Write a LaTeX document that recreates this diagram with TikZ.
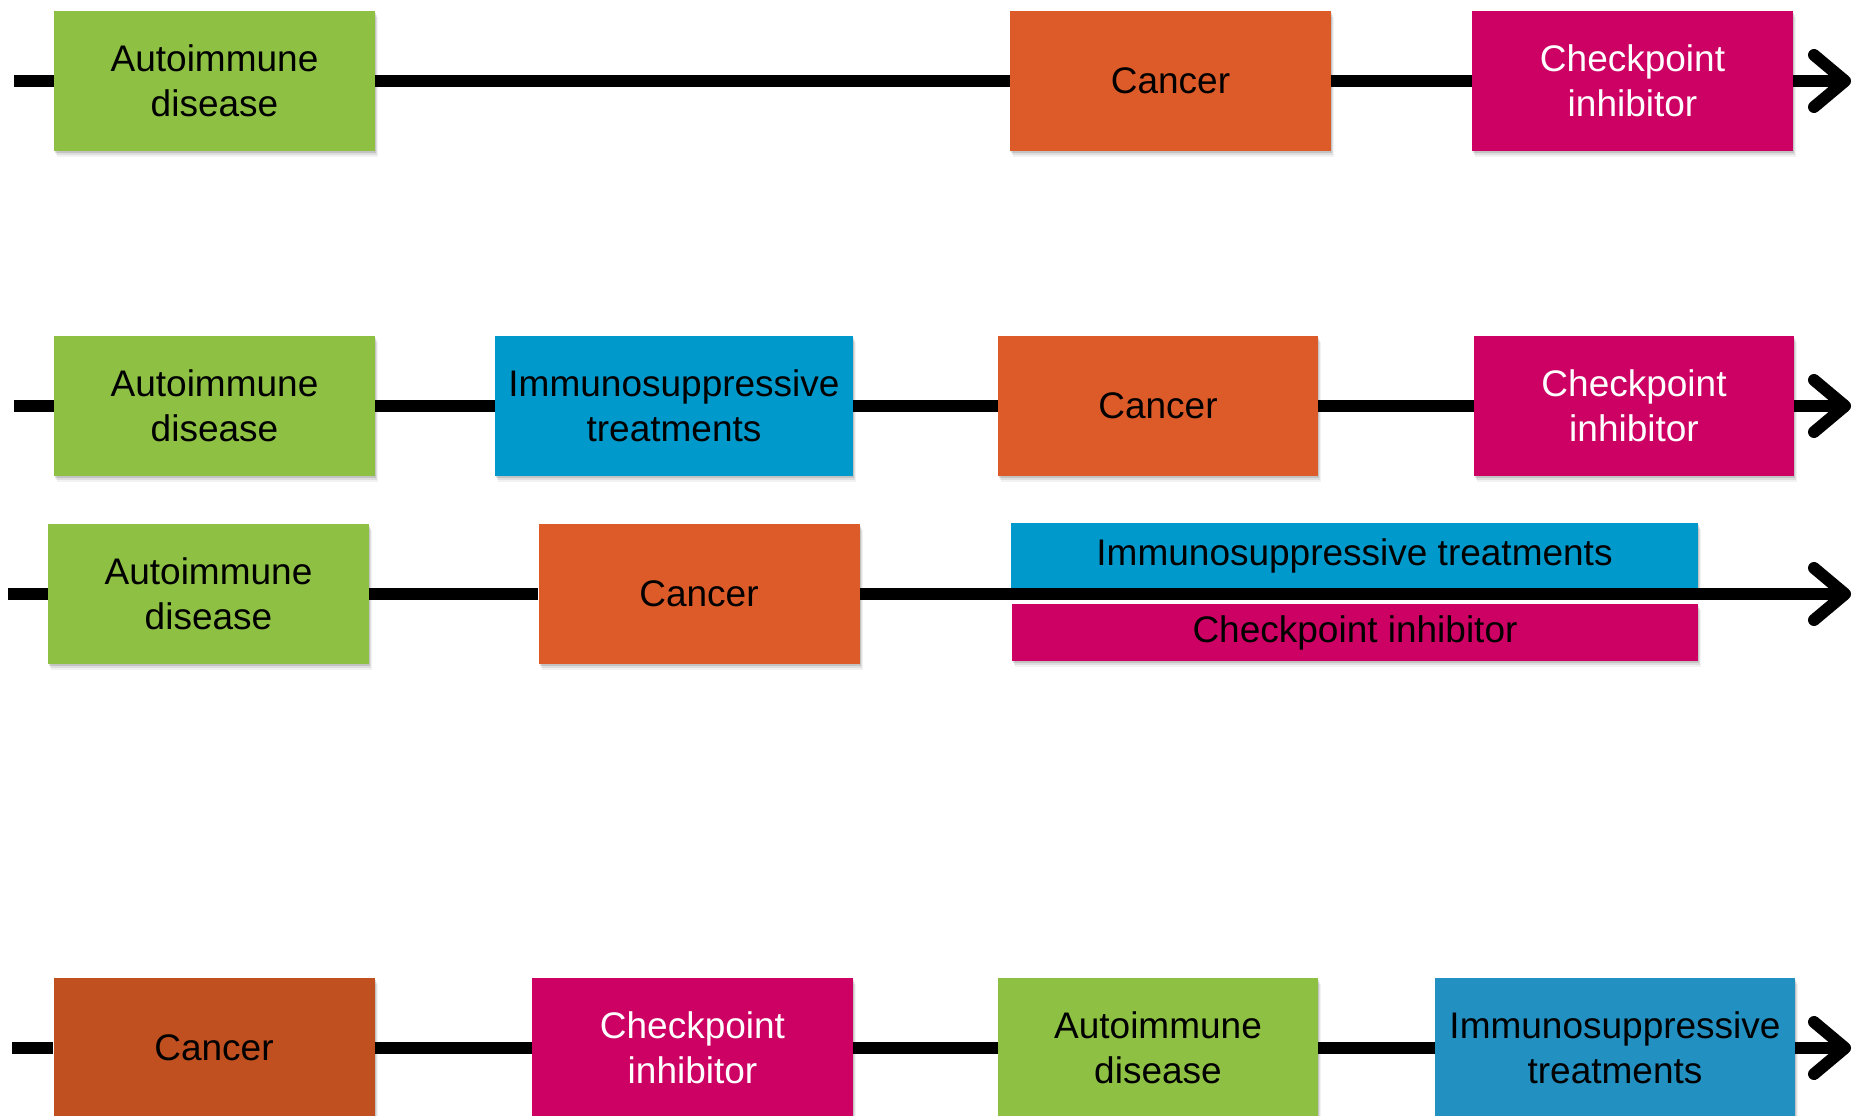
\documentclass[tikz,border=0pt]{standalone}
\usepackage{fontspec}
\setmainfont{Liberation Sans}
\usetikzlibrary{arrows.meta,shadows}
\definecolor{cgreen}{RGB}{141,192,67}
\definecolor{corange}{RGB}{221,91,41}
\definecolor{cpink}{RGB}{205,0,100}
\definecolor{cblue}{RGB}{0,153,204}
\definecolor{corange2}{RGB}{192,80,32}
\definecolor{cblue2}{RGB}{34,144,193}
\tikzset{
  box/.style={rectangle, inner sep=0pt, minimum width=321pt, minimum height=140pt,
    align=center, font=\fontsize{37}{45}\selectfont, text=black,
    drop shadow={shadow xshift=3pt, shadow yshift=-6pt, fill=black, opacity=0.05},
    drop shadow={shadow xshift=2pt, shadow yshift=-4pt, fill=black, opacity=0.08},
    drop shadow={shadow xshift=1pt, shadow yshift=-2pt, fill=black, opacity=0.12}},
  gbox/.style={box, fill=cgreen},
  obox/.style={box, fill=corange},
  pbox/.style={box, fill=cpink, text=white},
  bbox/.style={box, fill=cblue},
  tline/.style={line width=12pt, draw=black},
  tarrow/.style={tline, -{Straight Barb[length=31pt, width=52pt, line cap=round, line join=round]}}
}
\begin{document}
\begin{tikzpicture}[x=1pt,y=-1pt]
\useasboundingbox (0,0) rectangle (1852,1116);
\clip (0,0) rectangle (1852,1116);
\fill[white] (0,0) rectangle (1852,1116);

% Row 1
\coordinate (s1) at (14,81);
\coordinate (e1) at (1851,81);
\node[gbox] (a1) at (214.5,81) {Autoimmune\\disease};
\node[obox] (c1) at (1170.5,81) {Cancer};
\node[pbox] (k1) at (1632.5,81) {Checkpoint\\inhibitor};
\draw[tline] (s1) -- (a1);
\draw[tline] (a1) -- (c1);
\draw[tline] (c1) -- (k1);
\draw[tarrow] (k1) -- (e1);

% Row 2
\coordinate (s2) at (14,406);
\coordinate (e2) at (1851,406);
\node[gbox] (a2) at (214.5,406) {Autoimmune\\disease};
\node[bbox, minimum width=358pt] (b2) at (674,406) {Immunosuppressive\\treatments};
\node[obox, minimum width=320pt] (c2) at (1158,406) {Cancer};
\node[pbox, minimum width=320pt] (k2) at (1634,406) {Checkpoint\\inhibitor};
\draw[tline] (s2) -- (a2);
\draw[tline] (a2) -- (b2);
\draw[tline] (b2) -- (c2);
\draw[tline] (c2) -- (k2);
\draw[tarrow] (k2) -- (e2);

% Row 3
\coordinate (s3) at (8,594);
\coordinate (e3) at (1851,594);
\node[gbox] (a3) at (208.5,594) {Autoimmune\\disease};
\node[obox] (c3) at (699,594) {Cancer};
\node[bbox, minimum width=687pt, minimum height=65pt] (b3) at (1354.5,555.5) {Immunosuppressive treatments};
\node[pbox, text=black, minimum width=686pt, minimum height=57pt] (k3) at (1355,632.5) {Checkpoint inhibitor};
\draw[tline] (s3) -- (a3);
\draw[tline] (a3) -- (c3);
\draw[tarrow] (c3) -- (e3);

% Row 4
\coordinate (s4) at (12,1048);
\coordinate (e4) at (1851,1048);
\node[box, fill=corange2] (n4) at (214,1048) {Cancer};
\node[pbox] (k4) at (692.5,1048) {Checkpoint\\inhibitor};
\node[gbox, minimum width=320pt] (a4) at (1158,1048) {Autoimmune\\disease};
\node[box, fill=cblue2, minimum width=360pt] (b4) at (1615,1048) {Immunosuppressive\\treatments};
\draw[tline] (s4) -- (n4);
\draw[tline] (n4) -- (k4);
\draw[tline] (k4) -- (a4);
\draw[tline] (a4) -- (b4);
\draw[tarrow] (b4) -- (e4);
\end{tikzpicture}
\end{document}
